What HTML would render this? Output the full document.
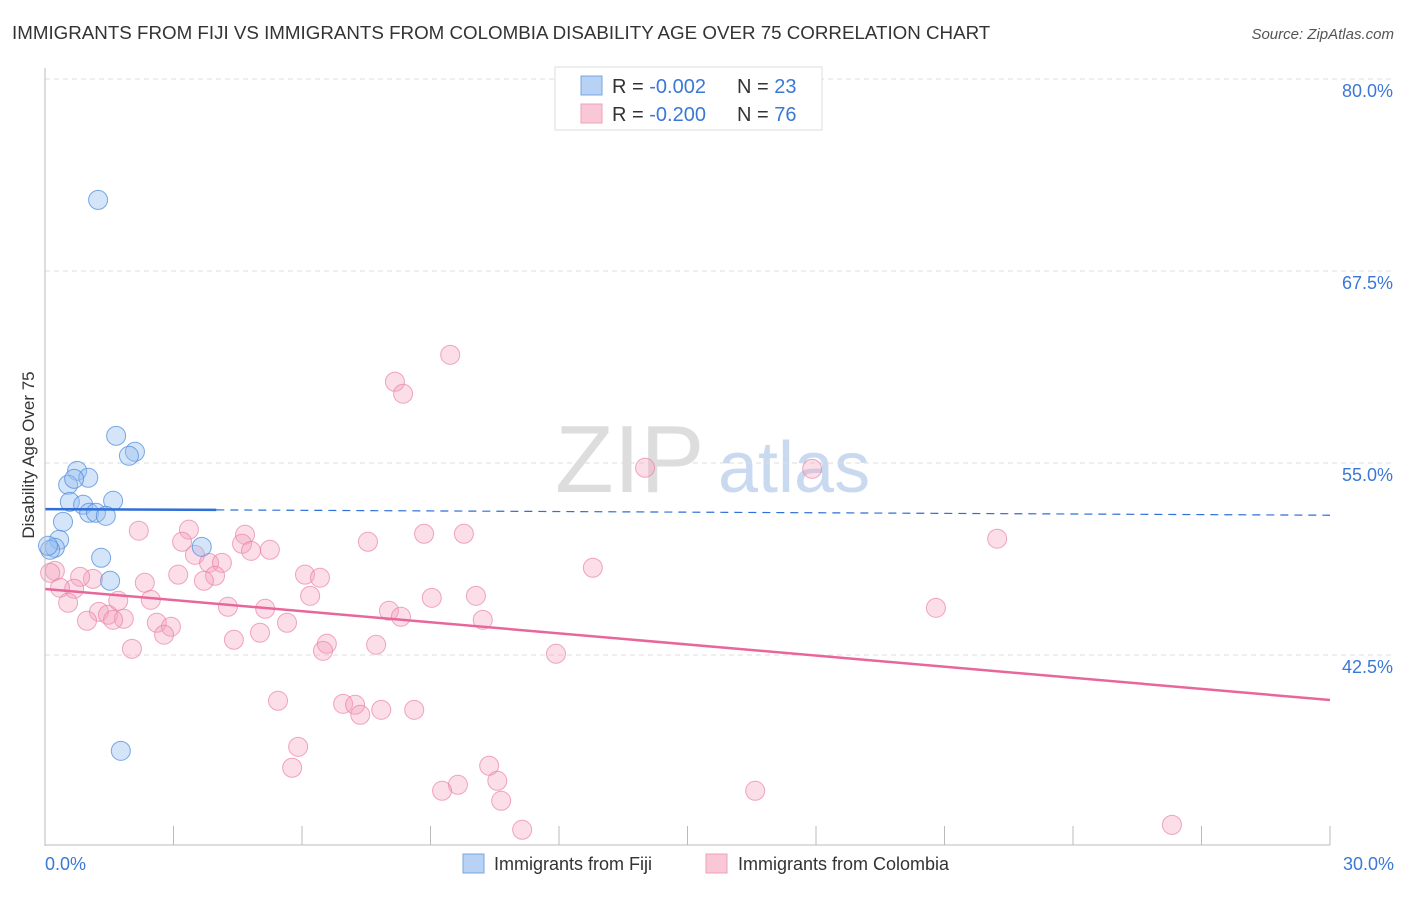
<!DOCTYPE html>
<html><head><meta charset="utf-8"><style>
body{margin:0;background:#fff;font-family:"Liberation Sans",sans-serif;}
svg text{font-family:"Liberation Sans",sans-serif;}
</style></head><body>
<svg id="chart" width="1406" height="892" xmlns="http://www.w3.org/2000/svg">
<text x="12" y="39" font-size="18.75" fill="#333">IMMIGRANTS FROM FIJI VS IMMIGRANTS FROM COLOMBIA DISABILITY AGE OVER 75 CORRELATION CHART</text>
<text x="1394" y="39" font-size="15" fill="#555" text-anchor="end" font-style="italic">Source: ZipAtlas.com</text>
<text x="555" y="492" font-size="96" fill="#ddd" font-family="Liberation Serif">ZIP</text>
<text x="718" y="492" font-size="72" fill="#c9daf0">atlas</text>
<g id="grid"></g><g id="pts"></g><g id="lines"></g>
<line x1="45" y1="68" x2="45" y2="846" stroke="#bbb"/>
<line x1="45" y1="845" x2="1330" y2="845" stroke="#bbb"/>
<text transform="translate(34,455) rotate(-90)" font-size="17" fill="#333" text-anchor="middle">Disability Age Over 75</text>
<text x="45" y="870" font-size="18" fill="#3b78d6">0.0%</text>
<text x="1394" y="870" font-size="18" fill="#3b78d6" text-anchor="end">30.0%</text>
<g>
<rect x="555" y="67" width="267" height="63" fill="#fff" stroke="#ddd"/>
<rect x="581" y="76" width="21" height="19" fill="#b7d2f5" stroke="#7aa6e0"/>
<rect x="581" y="104" width="21" height="19" fill="#f9c7d6" stroke="#eda0b8"/>
<text x="612" y="93" font-size="20" fill="#333">R = <tspan fill="#3b78d6">-0.002</tspan></text>
<text x="737" y="93" font-size="20" fill="#333">N = <tspan fill="#3b78d6">23</tspan></text>
<text x="612" y="121" font-size="20" fill="#333">R = <tspan fill="#3b78d6">-0.200</tspan></text>
<text x="737" y="121" font-size="20" fill="#333">N = <tspan fill="#3b78d6">76</tspan></text>
</g>
<g>
<rect x="463" y="854" width="21" height="19" fill="#b7d2f5" stroke="#7aa6e0"/>
<text x="494" y="870" font-size="18" fill="#333">Immigrants from Fiji</text>
<rect x="706" y="854" width="21" height="19" fill="#f9c7d6" stroke="#eda0b8"/>
<text x="738" y="870" font-size="18" fill="#333">Immigrants from Colombia</text>
</g>
</svg>
<script>
const yTicks=[80,67.5,55,42.5];
const xTicks=[0,3,6,9,12,15,18,21,24,27,30];
const fijiX=[1.24,1.66,2.10,1.96,0.75,1.01,0.54,0.68,0.58,0.89,1.59,1.03,1.19,1.42,0.42,0.33,0.23,0.12,1.31,1.52,3.66,1.77,0.07];
const fijiY=[72.13,56.77,55.73,55.47,54.49,54.04,53.58,53.97,52.47,52.28,52.54,51.76,51.76,51.56,51.17,50.0,49.48,49.35,48.83,47.33,49.54,36.26,49.61];
const colX=[9.46,8.17,8.36,14.01,17.91,22.23,12.79,20.8,11.93,2.19,3.36,4.67,3.2,4.6,4.81,5.25,3.5,3.83,4.13,7.54,8.85,9.78,6.07,6.42,3.11,3.97,3.71,2.33,1.12,0.82,0.68,0.35,0.23,0.12,6.19,10.06,9.03,0.54,1.71,2.47,1.26,1.47,1.84,0.98,1.59,4.27,5.14,8.03,8.31,10.22,5.65,2.61,2.94,2.78,5.02,4.41,2.03,6.58,6.49,7.73,5.44,6.96,7.24,7.36,7.85,8.62,5.91,5.77,10.37,10.56,9.64,9.27,16.58,10.65,11.14,26.31];
const colY=[62.04,60.29,59.51,54.69,54.62,50.07,48.18,45.57,42.58,50.59,50.66,50.33,49.87,49.74,49.28,49.35,49.02,48.5,48.5,49.87,50.39,50.39,47.73,47.53,47.73,47.66,47.33,47.2,47.46,47.59,46.81,46.88,47.98,47.85,46.35,46.35,46.22,45.9,46.03,46.09,45.31,45.12,44.86,44.73,44.79,45.64,45.51,45.38,44.99,44.79,44.6,44.6,44.34,43.82,43.95,43.49,42.9,43.23,42.77,43.17,39.52,39.32,39.26,38.61,38.93,38.93,36.52,35.16,35.29,34.31,34.05,33.66,33.66,33.01,31.12,31.44];
const fijiLine=[52.0,51.6];
const colLine=[46.8,39.57];
const NS="http://www.w3.org/2000/svg";
const X=v=>45+v*42.833, Y=v=>79+(80-v)*15.36;
function mk(t,a,p){const e=document.createElementNS(NS,t);for(const k in a)e.setAttribute(k,a[k]);p.appendChild(e);return e;}
const grid=document.getElementById('grid');
yTicks.forEach(t=>{
 const l=mk('line',{x1:45,x2:1394,y1:Y(t),y2:Y(t),stroke:'#ddd','stroke-dasharray':'5,4'},grid);
 
 
 const tx=mk('text',{x:1393,y:Y(t)+18,'font-size':18,fill:'#3b78d6','text-anchor':'end'},grid);
 tx.textContent=t.toFixed(1)+'%';
 
 
});
xTicks.forEach(t=>{
 const l=mk('line',{x1:X(t),x2:X(t),y1:826,y2:845,stroke:'#bbb'},grid);
 
 
});
const pts=document.getElementById('pts');
colX.forEach((x,i)=>{
 const c=mk('circle',{cx:X(x),cy:Y(colY[i]),r:9.5,fill:'rgba(244,160,190,0.35)',stroke:'rgba(234,130,165,0.7)'},pts);
 
 
});
fijiX.forEach((x,i)=>{
 const c=mk('circle',{cx:X(x),cy:Y(fijiY[i]),r:9.5,fill:'rgba(150,190,240,0.4)',stroke:'rgba(80,140,220,0.75)'},pts);
 
 
});
const lines=document.getElementById('lines');
const fs=fijiLine[0]+(fijiLine[1]-fijiLine[0])*(4/30);
let l1=mk('line',{x1:X(0),y1:Y(fijiLine[0]),x2:X(4),y2:Y(fs),stroke:'#2f6fd6','stroke-width':2.5},lines);


let l2=mk('line',{x1:X(4),y1:Y(fs),x2:X(30),y2:Y(fijiLine[1]),stroke:'#2f6fd6','stroke-width':1.2,'stroke-dasharray':'8,6'},lines);


let l3=mk('line',{x1:X(0),y1:Y(colLine[0]),x2:X(30),y2:Y(colLine[1]),stroke:'#e8679a','stroke-width':2.5},lines);


</script>
</body></html>
